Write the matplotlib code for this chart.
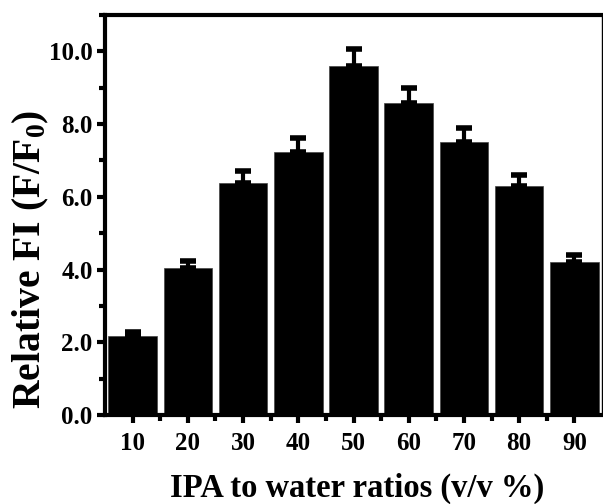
import matplotlib
matplotlib.use("Agg")
import matplotlib.pyplot as plt
import numpy as np
from matplotlib.ticker import MultipleLocator, FixedLocator

ratios = ["10", "20", "30", "40", "50", "60", "70", "80", "90"]
rel_fi = [2.18, 4.03, 6.39, 7.24, 9.59, 8.58, 7.52, 6.31, 4.20]
err = [0.11, 0.20, 0.32, 0.37, 0.47, 0.41, 0.37, 0.29, 0.20]

plt.rcParams["font.family"] = ["Liberation Serif", "DejaVu Serif"]
plt.rcParams["font.weight"] = "bold"
plt.rcParams["mathtext.fontset"] = "custom"
plt.rcParams["mathtext.rm"] = "Liberation Serif:bold"
plt.rcParams["mathtext.bf"] = "Liberation Serif:bold"
plt.rcParams["mathtext.default"] = "bf"

W, H = 603, 504
fig = plt.figure(figsize=(W / 100, H / 100), dpi=100)
ax = fig.add_axes([105 / W, 1 - 415 / H, 497 / W, 400 / H])

x = np.arange(1, len(ratios) + 1)
ax.bar(x, rel_fi, width=0.88, color="black", edgecolor="#444444", linewidth=0.5, zorder=2)
ax.errorbar(x, rel_fi, yerr=[np.zeros(len(err)), err], fmt="none", ecolor="black",
            elinewidth=3, capsize=6, capthick=4, zorder=3)

ax.set_xlim(0.5, 9.5)
ax.set_ylim(0, 11.0)
ax.set_xticks(x)
ax.set_xticklabels(ratios)
ax.xaxis.set_minor_locator(FixedLocator(x[:-1] + 0.5))
ax.yaxis.set_major_locator(MultipleLocator(2))
ax.yaxis.set_minor_locator(MultipleLocator(1))
ax.set_yticklabels([f"{v:.1f}" for v in ax.get_yticks()])

for side in ("left", "bottom", "top"):
    ax.spines[side].set_linewidth(3)
ax.spines["right"].set_linewidth(1)

ax.tick_params(which="major", direction="out", length=6, width=3, labelsize=18, pad=3)
ax.tick_params(which="minor", direction="out", length=4, width=3)
ax.tick_params(axis="x", which="major", pad=6)

# axis titles placed by hand to follow the reference offsets
fig.text(357 / W, 1 - 497 / H, "IPA to water ratios (v/v %)", fontsize=23.5,
         fontweight="bold", ha="center", va="baseline")
fig.text(31 / W, 1 - 259.5 / H, "Relative FI (F/F$_0$)", fontsize=28.5,
         fontweight="bold", ha="center", va="center", rotation=90)

fig.savefig("out.png", dpi=100)
